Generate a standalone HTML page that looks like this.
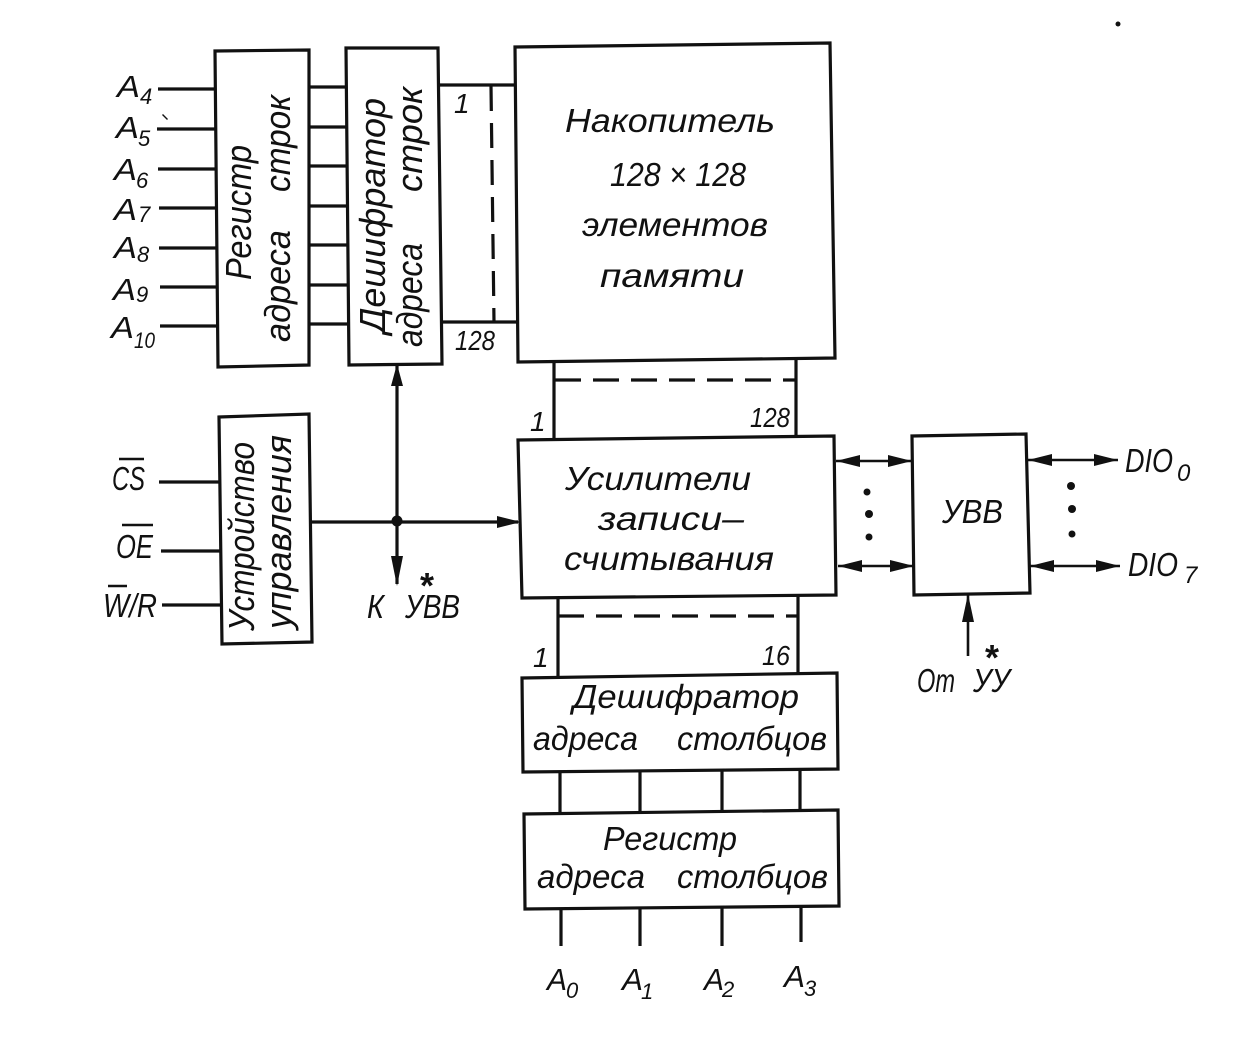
<!DOCTYPE html>
<html><head><meta charset="utf-8"><style>
html,body{margin:0;padding:0;background:#fff}
svg{display:block}
text{font-family:"Liberation Sans",sans-serif;font-style:italic;fill:#111;font-size:33px}
.r{font-size:36px}
.a{font-size:31px}
.s{font-size:22px}
.n{font-size:28px}
.t{font-style:normal;font-weight:bold;font-size:36px;text-anchor:middle}
</style></head><body>
<svg width="1241" height="1041" viewBox="0 0 1241 1041" xmlns="http://www.w3.org/2000/svg">
<g fill="none" stroke="#111" stroke-width="3.2">
<path d="M215 51L309 50L309 365L218 367Z"/>
<path d="M346 48L438 48L442 364L349 365Z"/>
<path d="M515 47L830 43L835 358L518 362Z"/>
<path d="M219 417L309 414L312 642L222 644Z"/>
<path d="M518 440L834 436L836 595L522 598Z"/>
<path d="M912 436L1026 434L1030 593L914 595Z"/>
<path d="M522 678L837 673L838 769L523 772Z"/>
<path d="M524 814L838 810L839 906L525 909Z"/>
<path d="M158 89H215M157 129H216M158 169H216M159 208H216M159 248H217M160 287H217M160 326H218"/>
<path d="M309 87H346M309 127H346M309 166H346M309 206H347M309 245H347M309 285H348M309 324H348"/>
<path d="M438 85H515M441 322H518"/>
<path d="M491 86L494 322" stroke-dasharray="25 12"/>
<path d="M554 362V439M796 358V436"/>
<path d="M555 380H796" stroke-dasharray="26 12"/>
<path d="M558 598V677M798 596V673"/>
<path d="M558 616H798" stroke-dasharray="26 12"/>
<path d="M159 482H220M161 551H221M162 605H222"/>
<path d="M312 522H518"/>
<path d="M397 366V584"/>
<path d="M836 461H912M838 566H914M1028 460H1118M1030 566H1120" stroke-width="2.6"/>
<path d="M968 594V656" stroke-width="2.6"/>
<path d="M560 772V814M640 771V813M722 771V812M800 770V811"/>
<path d="M561 909V946M640 908V946M722 907V946M801 907V942"/>
</g>
<g fill="#111">
<circle cx="397" cy="521" r="5.5"/>
<path d="M397 364l-6 22h12zM397 586l-6-30 h12zM521 522l-24-6v12z"/>
<path d="M836 461l24-6v12zM912 461l-24-6v12zM838 566l24-6v12zM914 566l-24-6v12z"/>
<path d="M1028 460l24-6v12zM1118 460l-24-6v12zM1030 566l24-6v12zM1120 566l-24-6v12z"/>
<path d="M968 594l-6 28h12z"/>
<circle cx="867" cy="492" r="3.5"/><circle cx="869" cy="514" r="4"/><circle cx="869" cy="537" r="3.5"/>
<circle cx="1071" cy="486" r="4"/><circle cx="1072" cy="509" r="4"/><circle cx="1072" cy="534" r="3.5"/>
<circle cx="1118" cy="24" r="2.5"/>
<path d="M163 114l5 5-1 1-5-5z"/>
</g>
<g class="a">
<text class="a" x="117" y="97" textLength="23" lengthAdjust="spacingAndGlyphs">A</text><text class="s" x="140" y="104">4</text>
<text class="a" x="116" y="138" textLength="23" lengthAdjust="spacingAndGlyphs">A</text><text class="s" x="138" y="146">5</text>
<text class="a" x="114" y="180" textLength="23" lengthAdjust="spacingAndGlyphs">A</text><text class="s" x="136" y="188">6</text>
<text class="a" x="114" y="220" textLength="23" lengthAdjust="spacingAndGlyphs">A</text><text class="s" x="138" y="222">7</text>
<text class="a" x="114" y="258" textLength="23" lengthAdjust="spacingAndGlyphs">A</text><text class="s" x="137" y="262">8</text>
<text class="a" x="113" y="300" textLength="23" lengthAdjust="spacingAndGlyphs">A</text><text class="s" x="136" y="302">9</text>
<text class="a" x="111" y="338" textLength="23" lengthAdjust="spacingAndGlyphs">A</text><text class="s" x="134" y="348" textLength="21" lengthAdjust="spacingAndGlyphs">10</text>
</g>
<text class="r" transform="translate(251,280) rotate(-90)" textLength="135" lengthAdjust="spacingAndGlyphs">Регистр</text>
<text class="r" transform="translate(290,342) rotate(-90)" textLength="112" lengthAdjust="spacingAndGlyphs">адреса</text>
<text class="r" transform="translate(290,192) rotate(-90)" textLength="97" lengthAdjust="spacingAndGlyphs">строк</text>
<text class="r" transform="translate(385,333) rotate(-90)" textLength="235" lengthAdjust="spacingAndGlyphs">Дешифратор</text>
<text class="r" transform="translate(422,347) rotate(-90)" textLength="104" lengthAdjust="spacingAndGlyphs">адреса</text>
<text class="r" transform="translate(422,192) rotate(-90)" textLength="105" lengthAdjust="spacingAndGlyphs">строк</text>
<text x="565" y="132" textLength="210" lengthAdjust="spacingAndGlyphs">Накопитель</text>
<text x="610" y="186" textLength="136" lengthAdjust="spacingAndGlyphs">128 × 128</text>
<text x="582" y="236" textLength="186" lengthAdjust="spacingAndGlyphs">элементов</text>
<text x="600" y="287" textLength="144" lengthAdjust="spacingAndGlyphs">памяти</text>
<text x="454" y="113" class="n">1</text>
<text x="455" y="350" class="n" textLength="40" lengthAdjust="spacingAndGlyphs">128</text>
<text x="530" y="431" class="n">1</text>
<text x="750" y="427" class="n" textLength="40" lengthAdjust="spacingAndGlyphs">128</text>
<text class="r" transform="translate(254,631) rotate(-90)" textLength="189" lengthAdjust="spacingAndGlyphs">Устройство</text>
<text class="r" transform="translate(291,629) rotate(-90)" textLength="194" lengthAdjust="spacingAndGlyphs">управления</text>
<text x="565" y="490" textLength="186" lengthAdjust="spacingAndGlyphs">Усилители</text>
<text x="598" y="530" textLength="146" lengthAdjust="spacingAndGlyphs">записи–</text>
<text x="564" y="570" textLength="210" lengthAdjust="spacingAndGlyphs">считывания</text>
<text x="942" y="523" textLength="61" lengthAdjust="spacingAndGlyphs">УВВ</text>
<text x="112" y="490" textLength="33" lengthAdjust="spacingAndGlyphs">CS</text>
<path d="M119 459H144M122 525H153M108 586H127" stroke="#111" stroke-width="2.4"/>
<text x="116" y="558" textLength="37" lengthAdjust="spacingAndGlyphs">OE</text>
<text x="103" y="617" textLength="54" lengthAdjust="spacingAndGlyphs">W/R</text>
<text x="367" y="618" textLength="17" lengthAdjust="spacingAndGlyphs">К</text>
<text x="405" y="618" textLength="55" lengthAdjust="spacingAndGlyphs">УВВ</text>
<text class="t" x="427" y="598">*</text>
<text x="1125" y="472" textLength="48" lengthAdjust="spacingAndGlyphs">DIO</text><text class="s" x="1177" y="481" style="font-size:24px">0</text>
<text x="1128" y="576" textLength="50" lengthAdjust="spacingAndGlyphs">DIO</text><text class="s" x="1184" y="583" style="font-size:24px">7</text>
<text x="917" y="692" textLength="38" lengthAdjust="spacingAndGlyphs">От</text>
<text x="973" y="692" textLength="37" lengthAdjust="spacingAndGlyphs">УУ</text>
<text class="t" x="992" y="670">*</text>
<text x="533" y="667" class="n">1</text>
<text x="762" y="665" class="n" textLength="28" lengthAdjust="spacingAndGlyphs">16</text>
<text x="573" y="708" textLength="226" lengthAdjust="spacingAndGlyphs">Дешифратор</text>
<text x="533" y="750" textLength="105" lengthAdjust="spacingAndGlyphs">адреса</text>
<text x="677" y="750" textLength="150" lengthAdjust="spacingAndGlyphs">столбцов</text>
<text x="603" y="850" textLength="134" lengthAdjust="spacingAndGlyphs">Регистр</text>
<text x="537" y="888" textLength="108" lengthAdjust="spacingAndGlyphs">адреса</text>
<text x="677" y="888" textLength="151" lengthAdjust="spacingAndGlyphs">столбцов</text>
<text class="a" x="547" y="990" textLength="20" lengthAdjust="spacingAndGlyphs">A</text><text class="s" x="566" y="998">0</text>
<text class="a" x="622" y="990" textLength="21" lengthAdjust="spacingAndGlyphs">A</text><text class="s" x="641" y="999">1</text>
<text class="a" x="704" y="990" textLength="20" lengthAdjust="spacingAndGlyphs">A</text><text class="s" x="722" y="997">2</text>
<text class="a" x="784" y="987" textLength="21" lengthAdjust="spacingAndGlyphs">A</text><text class="s" x="804" y="996">3</text>
</svg>
</body></html>
